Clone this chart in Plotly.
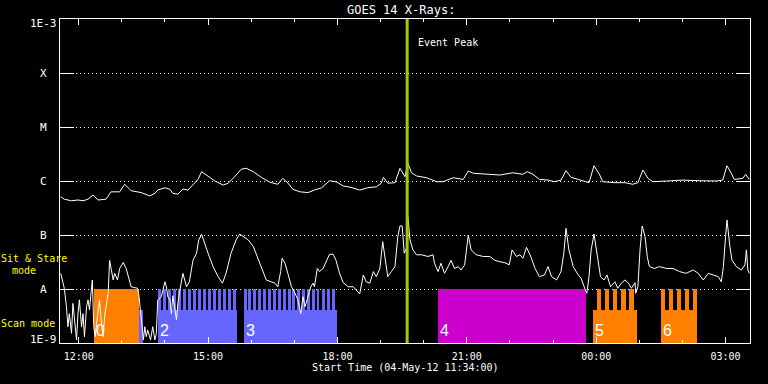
import math
import plotly.graph_objects as go
from datetime import datetime, timedelta

# ---------------- data ----------------
# GOES 14 long channel (1-8 A), W/m^2
long_time = ["11:35","11:40","11:50","11:59","12:06","12:13","12:20","12:27","12:38","12:45",
             "12:57","13:04","13:13","13:27","13:39","13:46","13:50","14:00","14:07","14:11",
             "14:18","14:25","14:32","14:39","14:46","14:51","14:58","15:09","15:21","15:28",
             "15:37","15:46","15:53","16:03","16:14","16:26","16:37","16:44","16:51","16:58",
             "17:08","17:19","17:28","17:38","17:49","17:58","18:08","18:19","18:31","18:42",
             "18:54","19:01","19:04","19:10","19:20","19:27","19:34","19:35","19:38","19:43",
             "19:50","20:04","20:18","20:27","20:41","20:55","21:02","21:09","21:27","21:46",
             "22:04","22:11","22:18","22:24","22:32","22:41","22:53","23:02","23:11","23:18",
             "23:25","23:35","23:44","23:50","23:57","00:05","00:09","00:26","00:40","00:51",
             "00:58","01:05","01:12","01:19","01:38","02:01","02:24","02:47","02:56","03:02",
             "03:08","03:12","03:24","03:28","03:33"]
long_flux = [5.1e-7,4.6e-7,4.3e-7,4.45e-7,4.3e-7,4.6e-7,5.5e-7,4.45e-7,4.6e-7,6.3e-7,
             6.3e-7,8.7e-7,6.6e-7,6.1e-7,5.3e-7,5.9e-7,6.8e-7,7.5e-7,7.0e-7,5.9e-7,
             5.7e-7,7.1e-7,6.8e-7,8.4e-7,1.07e-6,1.49e-6,1.29e-6,1.01e-6,8.4e-7,9.1e-7,
             1.20e-6,1.65e-6,1.72e-6,1.49e-6,1.17e-6,9.5e-7,8.7e-7,1.12e-6,9.2e-7,7.0e-7,
             6.3e-7,6.1e-7,6.8e-7,7.5e-7,1.01e-6,9.7e-7,8.1e-7,7.6e-7,6.8e-7,7.5e-7,
             7.8e-7,9.1e-7,1.17e-6,9.1e-7,9.3e-7,1.72e-6,1.20e-6,1.39e-6,2.13e-6,1.42e-6,
             1.24e-6,1.15e-6,9.7e-7,9.7e-7,1.15e-6,1.07e-6,1.53e-6,1.39e-6,1.33e-6,1.29e-6,
             1.42e-6,1.39e-6,1.33e-6,1.49e-6,1.33e-6,1.07e-6,1.04e-6,9.7e-7,1.04e-6,1.55e-6,
             1.17e-6,1.07e-6,9.7e-7,9.3e-7,1.92e-6,1.29e-6,9.7e-7,9.3e-7,9.3e-7,8.7e-7,
             9.3e-7,1.60e-6,1.12e-6,9.7e-7,1.0e-6,1.04e-6,1.01e-6,1.0e-6,1.04e-6,1.92e-6,
             1.39e-6,1.07e-6,1.12e-6,1.33e-6,1.07e-6]

# GOES 14 short channel (0.5-4 A), W/m^2
short_time = ["11:35","11:38","11:40","11:43","11:45","11:47","11:50","11:52","11:54","11:57",
              "11:59","12:01","12:04","12:06","12:08","12:11","12:13","12:15","12:18","12:19",
              "12:21","12:23","12:26","12:29","12:32","12:34","12:36","12:38","12:41","12:43",
              "12:45","12:48","12:50","12:54","12:57","13:02","13:06","13:10","13:13","13:18",
              "13:22","13:24","13:27","13:30","13:32","13:34","13:36","13:40","13:43","13:46",
              "13:48","13:50","13:55","14:00","14:02","14:04","14:07","14:09","14:11","14:14",
              "14:16","14:18","14:20","14:25","14:30","14:34","14:39","14:44","14:47","14:51",
              "14:54","15:00","15:07","15:14","15:20","15:25","15:32","15:39","15:44","15:49",
              "15:56","16:03","16:10","16:16","16:21","16:28","16:33","16:37","16:41","16:43",
              "16:47","16:51","16:56","17:00","17:05","17:09","17:12","17:15","17:19","17:23",
              "17:26","17:28","17:32","17:35","17:40","17:45","17:49","17:54","17:58","18:03",
              "18:08","18:15","18:22","18:26","18:31","18:36","18:40","18:45","18:50","18:54",
              "18:59","19:03","19:07","19:10","19:15","19:20","19:24","19:27","19:30","19:33",
              "19:36","19:38","19:41","19:45","19:50","19:57","20:06","20:13","20:15","20:20",
              "20:24","20:29","20:34","20:38","20:43","20:48","20:52","20:57","21:02","21:06",
              "21:13","21:23","21:32","21:39","21:46","21:53","21:59","22:03","22:09","22:14",
              "22:18","22:23","22:28","22:35","22:41","22:48","22:53","22:58","23:05","23:11",
              "23:15","23:18","23:22","23:28","23:35","23:39","23:44","23:47","23:50","23:53",
              "23:57","00:01","00:06","00:11","00:15","00:20","00:26","00:30","00:35","00:40",
              "00:45","00:49","00:54","00:55","00:58","01:01","01:04","01:08","01:11","01:14",
              "01:21","01:28","01:38","01:47","01:56","02:05","02:15","02:22","02:29","02:36",
              "02:43","02:50","02:54","02:57","03:00","03:02","03:06","03:09","03:15","03:22",
              "03:27","03:29","03:31","03:33"]
short_flux = [1.95e-8,1.28e-8,1.03e-8,4.7e-9,2.0e-9,3.5e-9,1.51e-9,5.4e-9,2.7e-9,1.14e-9,
              3.5e-9,6.3e-9,2.0e-9,3.5e-9,1.31e-9,4.7e-9,6.3e-9,4.1e-9,1.10e-8,1.47e-8,
              2.0e-9,1.31e-9,3.07e-9,6.3e-9,2.0e-9,1.31e-9,3.07e-9,4.7e-9,8.3e-9,3.4e-8,
              2.25e-8,1.47e-8,1.95e-8,1.47e-8,2.4e-8,3.1e-8,2.4e-8,1.47e-8,1.10e-8,1.06e-8,
              1.03e-8,7.2e-9,2.7e-9,1.14e-9,2.0e-9,1.31e-9,1.74e-9,1.14e-9,2.0e-9,1.14e-9,
              1.51e-9,6.3e-9,7.2e-9,1.36e-8,1.10e-8,7.2e-9,6.3e-9,3.5e-9,7.5e-9,4.1e-9,
              2.7e-9,5.4e-9,8.3e-9,1.95e-8,1.10e-8,1.36e-8,3.4e-8,4.6e-8,8.1e-8,1.03e-7,
              8.1e-8,4.6e-8,2.6e-8,1.69e-8,1.28e-8,1.95e-8,4.6e-8,8.1e-8,1.04e-7,9.3e-8,
              8.1e-8,6.1e-8,3.4e-8,2.25e-8,1.47e-8,1.36e-8,1.28e-8,1.10e-8,2.1e-8,3.7e-8,
              3.0e-8,1.95e-8,1.10e-8,8.9e-9,6.3e-9,3.5e-9,7.2e-9,4.7e-9,7.2e-9,1.10e-8,
              1.28e-8,1.10e-8,2.4e-8,2.1e-8,2.4e-8,3.4e-8,4.4e-8,4.4e-8,3.4e-8,1.95e-8,
              1.31e-8,1.10e-8,1.10e-8,9.6e-9,8.1e-9,1.82e-8,1.36e-8,1.28e-8,2.1e-8,1.69e-8,
              2.4e-8,7.5e-8,3.4e-8,1.69e-8,2.1e-8,2.6e-8,9.3e-8,1.47e-7,1.47e-7,4.6e-8,
              5.7e-8,2.18e-7,8.1e-8,5.3e-8,4.3e-8,4.3e-8,4.0e-8,4.3e-8,3.0e-8,2.1e-8,
              3.0e-8,1.95e-8,2.6e-8,3.4e-8,2.4e-8,2.6e-8,2.25e-8,2.8e-8,1.0e-7,5.3e-8,
              4.3e-8,4.0e-8,4.0e-8,3.4e-8,3.2e-8,3.07e-8,2.8e-8,5.3e-8,4.0e-8,4.3e-8,
              3.7e-8,5.9e-8,4.3e-8,2.4e-8,1.69e-8,1.82e-8,2.6e-8,1.69e-8,1.47e-8,2.1e-8,
              4.6e-8,1.33e-7,5.3e-8,2.6e-8,1.82e-8,1.58e-8,1.03e-8,8.3e-9,1.69e-8,5.3e-8,
              1.04e-7,4.6e-8,1.69e-8,1.47e-8,1.82e-8,1.10e-8,1.36e-8,1.03e-8,1.28e-8,1.47e-8,
              1.28e-8,1.03e-8,1.31e-8,8.3e-9,1.10e-8,5.3e-8,1.47e-7,9.3e-8,4.0e-8,2.6e-8,
              2.4e-8,2.6e-8,2.4e-8,2.4e-8,2.1e-8,1.95e-8,2.25e-8,1.95e-8,1.47e-8,1.95e-8,
              1.82e-8,1.69e-8,1.36e-8,2.6e-8,9.3e-8,1.90e-7,6.1e-8,3.4e-8,2.6e-8,2.25e-8,
              2.8e-8,5.3e-8,2.25e-8,1.95e-8]

# IRIS observation blocks
block_label = ["0", "", "2", "3", "4", "5", "6"]
block_start = ["12:21", "13:24", "13:50", "15:50", "20:20", "23:56", "01:30"]
block_end   = ["13:24", "13:29", "15:40", "18:00", "23:46", "00:57", "02:20"]
block_mode  = ["stare", "scan", "scan", "scan", "stare", "scan", "scan"]
block_color = ["#ff8000", "#6666ff", "#6666ff", "#6666ff", "#cc00cc", "#ff8000", "#ff8000"]

# sit-and-stare steps inside raster blocks
teeth_block2 = ["13:50","13:57","14:04","14:11","14:18","14:25","14:32","14:39","14:46","14:53",
                "15:00","15:07","15:14","15:21","15:28","15:35"]
teeth_block3 = ["15:50","15:56","16:03","16:10","16:17","16:23","16:30","16:37","16:44","16:51",
                "16:57","17:04","17:11","17:18","17:25","17:31","17:38","17:45","17:52"]
teeth_block5 = ["00:01","00:12","00:23","00:35","00:46"]
teeth_block6 = ["01:30","01:41","01:52","02:03","02:14"]
teeth_minutes = {2: 4, 3: 4, 5: 6, 6: 6}

stare_level = 1e-8
scan_level = 4.1e-9

event_peak = "19:37"

goes_levels = [1e-8, 1e-7, 1e-6, 1e-5, 1e-4]
goes_names = ["A", "B", "C", "M", "X"]

# ---------------- helpers ----------------
def t(hhmm):
    h, m = map(int, hhmm.split(":"))
    d = datetime(2012, 5, 4) + timedelta(hours=h, minutes=m)
    if h < 11:
        d += timedelta(days=1)
    return d

bar_x, bar_w, bar_y, bar_c = [], [], [], []
for s, e, mode, c in zip(block_start, block_end, block_mode, block_color):
    t0, t1 = t(s), t(e)
    bar_x.append(t0 + (t1 - t0) / 2)
    bar_w.append((t1 - t0).total_seconds() * 1000)
    bar_y.append(stare_level if mode == "stare" else scan_level)
    bar_c.append(c)

for bi, teeth in [(2, teeth_block2), (3, teeth_block3), (5, teeth_block5), (6, teeth_block6)]:
    dur = timedelta(minutes=teeth_minutes[bi])
    for s in teeth:
        t0 = t(s)
        bar_x.append(t0 + dur / 2)
        bar_w.append(dur.total_seconds() * 1000)
        bar_y.append(stare_level)
        bar_c.append(block_color[bi])

MONO = "DejaVu Sans Mono"

fig = go.Figure()
fig.add_trace(go.Bar(x=bar_x, y=bar_y, width=bar_w, marker=dict(color=bar_c, line=dict(width=0)),
                     opacity=1, showlegend=False, hoverinfo="skip"))
fig.add_trace(go.Scatter(x=[t(s) for s in long_time], y=long_flux, mode="lines",
                         line=dict(color="white", width=1), showlegend=False))
fig.add_trace(go.Scatter(x=[t(s) for s in short_time], y=short_flux, mode="lines",
                         line=dict(color="white", width=1), showlegend=False))

fig.add_shape(type="line", x0=t(event_peak), x1=t(event_peak), yref="paper", y0=0, y1=1,
              line=dict(color="#a0cc00", width=3), layer="above")

def txt(text, x, y, xref="paper", yref="paper", size=10, color="white", family=MONO, **kw):
    d = dict(x=x, y=y, xref=xref, yref=yref, text=text, showarrow=False,
             xanchor="center", yanchor="middle", font=dict(family=family, size=size, color=color))
    d.update(kw)
    return d

ann = []
ann.append(txt("Event Peak", t(event_peak), 0.927, xref="x", xanchor="left", xshift=9))
ann.append(txt("GOES 14 X-Rays:", 0.5, 1.028, size=12, xshift=-4))
ann.append(txt("Start Time (04-May-12 11:34:00)", 0.5, -0.077))
for lv, nm in zip(goes_levels, goes_names):
    ann.append(txt(nm, -0.0232, math.log10(lv), yref="y", size=11))
ann.append(txt("1E-3", -0.0232, -3.074, yref="y", size=11))
ann.append(txt("1E-9", -0.0232, -8.944, yref="y", size=11))
ann.append(txt("Sit & Stare", -0.0377, -7.439, yref="y", color="#ffff00"))
ann.append(txt("mode", -0.0517, -7.657, yref="y", color="#ffff00"))
ann.append(txt("Scan mode", -0.0459, -8.639, yref="y", color="#ffff00"))
for lab, s in zip(block_label, block_start):
    if lab:
        ann.append(txt(lab, t(s), 0.006, xref="x", yanchor="bottom", xanchor="left",
                       family="Liberation Sans", size=16))

fig.update_layout(
    width=768, height=384,
    margin=dict(l=60, r=18, t=19, b=41),
    paper_bgcolor="black", plot_bgcolor="black",
    barmode="overlay", bargap=0,
    showlegend=False,
    annotations=ann,
    xaxis=dict(
        type="date", range=[t("11:34"), t("03:34")],
        tick0=t("12:00"), dtick=3 * 3600 * 1000, tickformat="%H:%M",
        ticks="inside", ticklen=6, tickcolor="white", tickwidth=1,
        minor=dict(dtick=3600 * 1000, tick0=t("12:00"), ticks="inside", ticklen=3,
                   tickcolor="white", showgrid=False),
        showline=True, linecolor="white", linewidth=1, mirror="allticks",
        showgrid=False, zeroline=False, ticklabelstandoff=4,
        tickfont=dict(family=MONO, size=10, color="white"),
    ),
    yaxis=dict(
        type="log", range=[-9, -3],
        tickvals=goes_levels, showticklabels=False,
        ticks="inside", ticklen=14, tickcolor="white", tickwidth=1,
        showline=True, linecolor="white", linewidth=1, mirror="allticks",
        showgrid=True, gridcolor="white", gridwidth=1, griddash="1px,3px",
        zeroline=False,
    ),
)

fig.write_html("out.html", config={"displayModeBar": False},
               post_script="document.body.style.margin='0';")
